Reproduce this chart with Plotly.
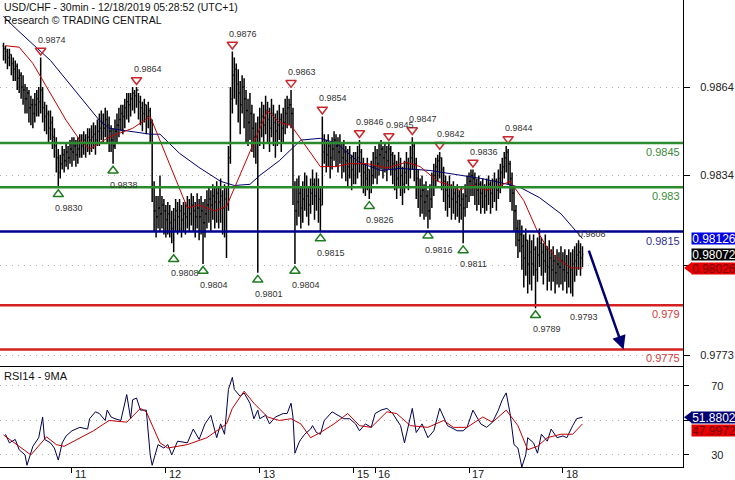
import plotly.graph_objects as go

# ---------------- data (prices in pips above 0.9800) ----------------
BASE = 0.98
PIP = 0.0001
first_open = 78
close_p = [77, 76, 74, 75, 72, 70, 71, 67, 68, 64, 63, 60, 62, 57, 58, 55, 58, 60, 59, 63,
           57, 54, 55, 50, 52, 47, 44, 40, 35, 38, 41, 39, 42, 40, 43, 42, 44, 41, 43, 45,
           44, 46, 45, 47, 46, 47, 48, 46, 49, 50, 52, 50, 53, 51, 49, 46, 44, 49, 51, 53,
           55, 54, 57, 59, 58, 60, 62, 61, 63, 59, 57, 55, 58, 54, 56, 52, 30, 22, 20, 23,
           21, 24, 22, 19, 21, 18, 16, 19, 22, 20, 22, 19, 21, 20, 23, 21, 24, 22, 20, 23,
           20, 22, 18, 21, 24, 26, 24, 27, 25, 28, 25, 27, 23, 26, 24, 40, 60, 68, 70, 65,
           62, 58, 64, 60, 56, 52, 55, 50, 47, 45, 49, 52, 54, 51, 56, 53, 50, 55, 52, 49,
           51, 53, 50, 52, 55, 57, 58, 55, 30, 22, 25, 28, 23, 26, 30, 27, 24, 28, 31, 27,
           30, 26, 24, 42, 45, 41, 44, 40, 43, 46, 44, 42, 45, 40, 42, 39, 37, 40, 36, 38,
           38, 40, 42, 38, 35, 33, 36, 30, 34, 37, 40, 38, 41, 43, 40, 42, 39, 43, 41, 38,
           36, 33, 37, 34, 31, 35, 38, 36, 40, 44, 38, 33, 30, 27, 29, 25, 27, 22, 26, 30,
           34, 37, 39, 40, 36, 32, 29, 27, 30, 26, 28, 25, 27, 24, 26, 23, 27, 30, 32, 34,
           33, 31, 29, 31, 28, 30, 27, 29, 31, 28, 30, 32, 29, 33, 35, 37, 40, 42, 38, 33,
           28, 22, 16, 12, 14, 10, 6, 12, 4, 8, 4, 9, 2, 7, 11, 8, 5, 9, 3, 6,
           2, 5, 1, 4, 3, 5, 2, 4, 1, 3, 2, 4, 5, 7, 8, 6, 7.2]
high_p = [79, 78, 77, 77, 75, 74, 73, 72, 70, 69, 68, 65, 64, 63, 61, 60, 62, 63, 64, 74,
          64, 59, 58, 56, 56, 54, 50, 47, 43, 41, 44, 43, 45, 44, 46, 47, 47, 46, 47, 48,
          48, 49, 48, 50, 50, 51, 52, 51, 53, 55, 56, 55, 57, 56, 54, 51, 50, 53, 55, 57,
          58, 58, 60, 62, 62, 62, 64, 63, 64, 62, 61, 59, 60, 58, 59, 57, 53, 32, 27, 27,
          34, 27, 26, 24, 25, 24, 22, 23, 26, 25, 26, 24, 25, 25, 27, 26, 28, 27, 25, 28,
          26, 27, 25, 26, 29, 30, 29, 31, 30, 32, 30, 33, 29, 31, 30, 44, 64, 76, 74, 72,
          70, 66, 68, 67, 63, 60, 62, 58, 55, 52, 54, 57, 59, 58, 61, 59, 57, 60, 58, 55,
          56, 58, 55, 57, 60, 61, 60, 63, 57, 32, 33, 34, 30, 32, 35, 34, 30, 33, 36, 33,
          35, 33, 30, 54, 48, 46, 48, 45, 47, 49, 48, 47, 48, 45, 46, 44, 43, 44, 41, 42,
          42, 44, 46, 43, 40, 38, 40, 36, 39, 42, 44, 43, 45, 46, 44, 45, 44, 45, 44, 42,
          41, 39, 42, 40, 37, 39, 42, 40, 44, 47, 45, 40, 36, 33, 34, 31, 32, 29, 31, 35,
          38, 40, 41, 42, 40, 37, 34, 32, 34, 31, 32, 30, 31, 29, 30, 28, 31, 34, 35, 36,
          36, 35, 33, 34, 32, 33, 31, 33, 34, 32, 33, 35, 33, 36, 38, 40, 42, 44, 43, 39,
          35, 30, 24, 19, 19, 17, 14, 16, 12, 14, 12, 14, 10, 13, 16, 13, 11, 14, 10, 12,
          9, 10, 7, 9, 8, 10, 8, 9, 7, 9, 8, 9, 10, 11, 12, 11, 10]
low_p = [73, 72, 70, 71, 68, 66, 66, 63, 62, 60, 58, 55, 55, 52, 51, 50, 52, 54, 54, 55,
         52, 49, 48, 45, 46, 43, 40, 35, 30, 33, 36, 35, 37, 36, 38, 37, 39, 37, 38, 40,
         40, 41, 40, 42, 41, 42, 43, 41, 44, 44, 46, 45, 47, 45, 42, 42, 38, 43, 45, 47,
         49, 48, 50, 53, 52, 54, 56, 55, 57, 53, 51, 49, 52, 48, 50, 45, 25, 15, 13, 16,
         15, 16, 14, 13, 14, 13, 11, 8, 15, 14, 15, 13, 15, 14, 16, 15, 17, 15, 13, 16,
         12, 14, 4, 13, 16, 18, 15, 19, 16, 18, 16, 18, 14, 13, 6, 22, 38, 55, 60, 58,
         52, 48, 55, 50, 45, 44, 46, 42, 40, 38, 1, 44, 47, 43, 48, 45, 42, 47, 44, 40,
         44, 46, 42, 45, 48, 50, 51, 50, 24, 4, 17, 20, 16, 18, 22, 20, 17, 21, 24, 19,
         22, 18, 15, 24, 38, 35, 37, 33, 36, 39, 37, 35, 38, 33, 35, 32, 30, 33, 29, 31,
         31, 33, 35, 30, 28, 27, 29, 26, 28, 31, 33, 31, 34, 36, 33, 35, 32, 36, 34, 31,
         29, 26, 30, 27, 24, 28, 31, 29, 33, 36, 32, 26, 23, 20, 21, 19, 20, 16, 19, 23,
         27, 30, 32, 33, 29, 25, 22, 20, 23, 19, 21, 19, 20, 18, 19, 11, 20, 23, 25, 27,
         27, 24, 22, 24, 21, 23, 21, 22, 24, 21, 23, 25, 22, 26, 28, 30, 33, 35, 31, 25,
         22, 15, 10, 6, 8, 2, -4, 0, -6, -3, -5, 0, -11, -2, 3, 0, -3, 1, -5, -2,
         -5, -2, -6, -3, -4, -3, -5, -2, -6, -4, -6, -7, -2, 0, 2, 0, 3]

# moving averages (bar index, pips)
red_ma_idx = [1, 8, 15, 24, 32, 39, 44, 54, 66, 75, 94, 100, 108, 114, 135, 141, 147, 162,
              170, 177, 186, 196, 206, 213, 222, 227, 233, 240, 247, 254, 259, 266, 273,
              278, 283, 290, 296]
red_ma_val = [78, 77.5, 72, 62, 52.7, 46, 43, 47, 50, 54, 23, 24, 22, 23.5, 56, 52, 51, 37,
              37, 38, 38, 36.5, 38.5, 37, 32, 31, 29, 30.6, 29, 30.6, 32, 25.5, 15,
              9.5, 6, 2.7, 2.6]
blue_ma_idx = [0, 6, 24, 39, 49, 54, 65, 75, 80, 90, 100, 111, 118, 126, 131, 141, 152, 162,
               170, 182, 193, 203, 218, 228, 244, 254, 264, 274, 285, 296]
blue_ma_val = [88, 84, 73, 61, 52.7, 50, 49, 48, 48, 41.5, 36.7, 32, 30.6, 31, 34, 39, 46,
               46.6, 45, 38.4, 35.7, 36.4, 35.7, 34.7, 33, 31.6, 30, 26.5, 21, 12.6]

# RSI14 and its 9MA
rsi_idx = [1, 3, 6, 8, 11, 12, 15, 18, 20, 21, 24, 26, 28, 30, 32, 35, 39, 43, 44, 47, 49, 52,
           53, 55, 57, 60, 63, 65, 66, 68, 70, 73, 75, 76, 79, 82, 84, 86, 89, 94, 97, 100,
           103, 106, 109, 111, 113, 115, 117, 118, 121, 123, 126, 128, 130, 131, 134, 136,
           139, 143, 145, 147, 148, 149, 151, 152, 154, 157, 158, 160, 162, 164, 168, 171,
           174, 177, 180, 182, 185, 188, 190, 193, 196, 199, 203, 205, 209, 211, 214, 217,
           220, 223, 227, 232, 235, 237, 240, 244, 247, 250, 253, 255, 257, 259, 261, 263,
           264, 265, 267, 268, 271, 273, 275, 278, 280, 283, 286, 288, 291, 293, 296]
rsi_val = [42, 37, 39, 33, 30, 24, 35, 40, 52, 39, 37, 34, 27, 37, 41, 44, 46, 45, 51, 55, 54,
           50, 56, 52, 51, 50, 65, 51, 62, 63, 56, 56, 30, 24, 36, 34, 36, 30, 38, 37, 45, 39,
           48, 53, 40, 48, 42, 68, 75, 68, 64, 66, 60, 51, 56, 51, 53, 48, 52, 54, 54, 60,
           52, 31, 37, 39, 42, 45, 47, 43, 42, 50, 55, 53, 51, 51, 48, 44, 48, 46, 54, 56,
           57, 54, 47, 37, 57, 43, 48, 40, 44, 57, 47, 44, 44, 46, 56, 48, 46, 49, 56, 62,
           66, 54, 36, 34, 28, 23, 30, 40, 37, 31, 42, 38, 45, 40, 41, 40, 47, 51, 51.88]
rsi_ma_idx = [0, 14, 22, 27, 31, 38, 46, 54, 63, 70, 73, 80, 84, 94, 104, 114, 117, 123, 128,
              135, 141, 147, 152, 157, 162, 169, 176, 182, 188, 196, 201, 208, 217, 225, 230,
              237, 245, 250, 257, 263, 268, 273, 278, 285, 291, 296]
rsi_ma_val = [41.6, 30, 40.5, 36, 35, 39, 44, 50, 49, 57, 55, 37, 34, 36, 40, 48, 57, 67, 60,
              52, 50, 51, 48, 40, 43, 48, 54, 47, 46, 55, 54, 47, 46, 50, 46, 46, 52, 49, 56,
              47, 33, 35, 40, 42, 42, 48]

# pivots (bar index, value)
peak_idx = [19, 68, 117, 147, 163, 182, 197, 209, 223, 240, 258]
peak_val = [0.9874, 0.9864, 0.9876, 0.9863, 0.9854, 0.9846, 0.9845, 0.9847, 0.9842, 0.9836, 0.9844]
trough_idx = [28, 56, 87, 102, 130, 149, 162, 187, 217, 235, 272]
trough_val = [0.9830, 0.9838, 0.9808, 0.9804, 0.9801, 0.9804, 0.9815, 0.9826, 0.9816, 0.9811, 0.9789]
pending_peak = (295, 0.9808)
pending_trough = (291, 0.9793)

# key levels
levels = [0.9845, 0.983, 0.9815, 0.979, 0.9775]
level_text = ["0.9845", "0.983", "0.9815", "0.979", "0.9775"]
level_colors = ["#2b8a2b", "#2b8a2b", "#000090", "#d42020", "#d42020"]
level_text_colors = ["#3a8a3a", "#3a8a3a", "#303090", "#d83a3a", "#d83a3a"]

# projection arrow (bar index, price)
proj_from = (299, 0.9809)
proj_to = (317, 0.9775)

# axis labels
day_idx = [35, 83, 131, 179, 190, 238, 286]
day_lbl = ["11", "12", "13", "15", "16", "17", "18"]
price_ticks = [0.9864, 0.9834, 0.98035, 0.9773]
price_tick_lbl = ["0.9864", "0.9834", "", "0.9773"]
rsi_ticks = [70, 50, 30]
rsi_tick_lbl = ["70", "", "30"]

last_close = 0.98072
last_blue = 0.98126
last_red = 0.98026
last_rsi = 51.8802
last_rsi_ma = 47.9972

# ---------------- figure ----------------
FONT = "Liberation Sans, Arial, sans-serif"
n = len(close_p)
bars = list(range(n))
to_px = lambda arr: [BASE + v * PIP for v in arr]
open_p = [first_open] + close_p[:-1]

fig = go.Figure()
fig.add_trace(go.Ohlc(
    x=bars, open=to_px(open_p), high=to_px(high_p), low=to_px(low_p), close=to_px(close_p),
    increasing=dict(line=dict(color="black", width=1.5)),
    decreasing=dict(line=dict(color="black", width=1.5)),
    tickwidth=0.5, xaxis="x", yaxis="y", hoverinfo="skip", showlegend=False))
fig.add_trace(go.Scatter(x=blue_ma_idx, y=to_px(blue_ma_val), mode="lines",
                         line=dict(color="#00006e", width=1), xaxis="x", yaxis="y",
                         showlegend=False, hoverinfo="skip"))
fig.add_trace(go.Scatter(x=red_ma_idx, y=to_px(red_ma_val), mode="lines",
                         line=dict(color="#c00000", width=1), xaxis="x", yaxis="y",
                         showlegend=False, hoverinfo="skip"))

TRI_OFF = 0.00024
fig.add_trace(go.Scatter(x=peak_idx, y=[v + TRI_OFF for v in peak_val], mode="markers",
                         marker=dict(symbol="triangle-down-open", size=9, color="#c8282d",
                                     line=dict(width=1.5)),
                         xaxis="x", yaxis="y", showlegend=False, hoverinfo="skip"))
fig.add_trace(go.Scatter(x=trough_idx, y=[v - TRI_OFF for v in trough_val], mode="markers",
                         marker=dict(symbol="triangle-up-open", size=9, color="#1f7a1f",
                                     line=dict(width=1.5)),
                         xaxis="x", yaxis="y", showlegend=False, hoverinfo="skip"))

fig.add_trace(go.Scatter(x=rsi_idx, y=rsi_val, mode="lines",
                         line=dict(color="#000050", width=1), xaxis="x2", yaxis="y2",
                         showlegend=False, hoverinfo="skip"))
fig.add_trace(go.Scatter(x=rsi_ma_idx, y=rsi_ma_val, mode="lines",
                         line=dict(color="#c00000", width=1), xaxis="x2", yaxis="y2",
                         showlegend=False, hoverinfo="skip"))

annotations = []
shapes = []
LBL_FONT = dict(family=FONT, size=9, color="#333333")
for i, v in zip(peak_idx, peak_val):
    annotations.append(dict(x=i, y=v, xref="x", yref="y", text=f"{v:.4f}", showarrow=False,
                            xanchor="left", yanchor="bottom", xshift=-5, yshift=11, font=LBL_FONT))
for i, v in zip(trough_idx, trough_val):
    annotations.append(dict(x=i, y=v, xref="x", yref="y", text=f"{v:.4f}", showarrow=False,
                            xanchor="left", yanchor="top", xshift=-5, yshift=-14, font=LBL_FONT))
annotations.append(dict(x=pending_peak[0], y=pending_peak[1], xref="x", yref="y",
                        text=f"{pending_peak[1]:.4f}", showarrow=False, xanchor="left",
                        yanchor="bottom", xshift=-5, yshift=11, font=LBL_FONT))
annotations.append(dict(x=pending_trough[0], y=pending_trough[1], xref="x", yref="y",
                        text=f"{pending_trough[1]:.4f}", showarrow=False, xanchor="left",
                        yanchor="top", xshift=-5, yshift=-14, font=LBL_FONT))

for lv, tx, c, tc in zip(levels, level_text, level_colors, level_text_colors):
    shapes.append(dict(type="line", xref="paper", x0=0, x1=1, yref="y", y0=lv, y1=lv,
                       line=dict(color=c, width=2.5), layer="above"))
    annotations.append(dict(x=1, y=lv, xref="paper", yref="y", text=tx, showarrow=False,
                            xanchor="right", yanchor="top", xshift=-1, yshift=-1,
                            font=dict(family=FONT, size=11, color=tc)))

# projection arrow
annotations.append(dict(x=proj_to[0], y=proj_to[1], ax=proj_from[0], ay=proj_from[1],
                        xref="x", yref="y", axref="x", ayref="y", showarrow=True,
                        arrowhead=2, arrowsize=1.1, arrowwidth=2.5, arrowcolor="#000070",
                        text=""))

# day labels (placed just right of each day tick)
for i, lbl in zip(day_idx, day_lbl):
    annotations.append(dict(x=i, y=0, xref="x2", yref="paper", text=lbl, showarrow=False,
                            xanchor="left", yanchor="top", xshift=1, yshift=1,
                            font=dict(family=FONT, size=11, color="#222222")))

# titles
TITLE_FONT = dict(family=FONT, size=10.5, color="#111111")
annotations += [
    dict(x=0, y=1, xref="paper", yref="paper", xanchor="left", yanchor="top", xshift=2,
         yshift=1, showarrow=False, text="USD/CHF - 30min - 12/18/2019 05:28:52 (UTC+1)",
         font=TITLE_FONT),
    dict(x=0, y=1, xref="paper", yref="paper", xanchor="left", yanchor="top", xshift=2,
         yshift=-12, showarrow=False, text="Research © TRADING CENTRAL", font=TITLE_FONT),
    dict(x=0, y=1, xref="paper", yref="y2 domain", xanchor="left", yanchor="top", xshift=2,
         yshift=-1, showarrow=False, text="RSI14 - 9MA",
         font=dict(family=FONT, size=11, color="#111111")),
]

# right-side value boxes
def value_box(val, yref, bg, fg, text, yshift=0, arrow=False):
    annotations.append(dict(x=1, y=val, xref="paper", yref=yref, xanchor="left",
                            yanchor="middle", xshift=8, yshift=yshift, showarrow=False,
                            text=text, bgcolor=bg, width=44, height=11, borderpad=0,
                            font=dict(family=FONT, size=12, color=fg)))
    if arrow:
        shapes.append(dict(type="path", xref="paper", xsizemode="pixel", xanchor=1,
                           yref=yref, ysizemode="pixel", yanchor=val,
                           path=f"M1,{-yshift} L9,{-yshift + 6} L9,{-yshift - 6} Z",
                           fillcolor=bg, line=dict(width=0), layer="above"))

value_box(last_blue, "y", "#0000e6", "white", f"{last_blue:.5f}")
value_box(last_close, "y", "#000000", "white", f"{last_close:.5f}")
value_box(last_red, "y", "#e60000", "#7a0000", f"{last_red:.5f}", arrow=True)
value_box(last_rsi, "y2", "#000070", "white", f"{last_rsi:.4f}", arrow=True)
value_box(last_rsi_ma, "y2", "#e60000", "#7a0000", f"{last_rsi_ma:.4f}", yshift=-7)

GRID = dict(showgrid=True, gridcolor="#b0b0b0", griddash="1px,5px", gridwidth=1)
fig.update_layout(
    width=735, height=480, margin=dict(l=0, r=52, t=0, b=13),
    paper_bgcolor="white", plot_bgcolor="white",
    font=dict(family=FONT, size=11, color="#222222"),
    showlegend=False,
    xaxis=dict(domain=[0, 1], range=[-1.8, 347.4], anchor="y", showticklabels=False,
               ticks="", showgrid=False, zeroline=False, showline=False,
               rangeslider=dict(visible=False)),
    yaxis=dict(domain=[0.2163, 1], range=[0.97694, 0.98935], side="right", anchor="x",
               showline=True, linecolor="black", linewidth=1, ticks="outside", ticklen=6,
               tickcolor="black", tickvals=price_ticks, ticktext=price_tick_lbl,
               ticklabelstandoff=8, zeroline=False, tickfont=dict(size=11, color="#222"),
               **GRID),
    xaxis2=dict(domain=[0, 1], range=[-1.8, 347.4], anchor="y2", matches="x",
                tickvals=day_idx, ticktext=day_lbl, showticklabels=False,
                ticks="outside", ticklen=5,
                tickcolor="black", showline=True, mirror=True, linecolor="black",
                linewidth=1, showgrid=False, zeroline=False,
                rangeslider=dict(visible=False)),
    yaxis2=dict(domain=[0, 0.2141], range=[23, 81], side="right", anchor="x2",
                showline=True, linecolor="black", linewidth=1, ticks="outside", ticklen=5,
                tickcolor="black", tickvals=rsi_ticks, ticktext=rsi_tick_lbl,
                ticklabelstandoff=20, zeroline=False, tickfont=dict(size=11, color="#222"),
                **GRID),
    annotations=annotations, shapes=shapes,
)

fig.write_html("out.html",
               config={"displayModeBar": False},
               post_script="document.body.style.margin='0';"
                           "document.body.style.overflow='hidden';")
